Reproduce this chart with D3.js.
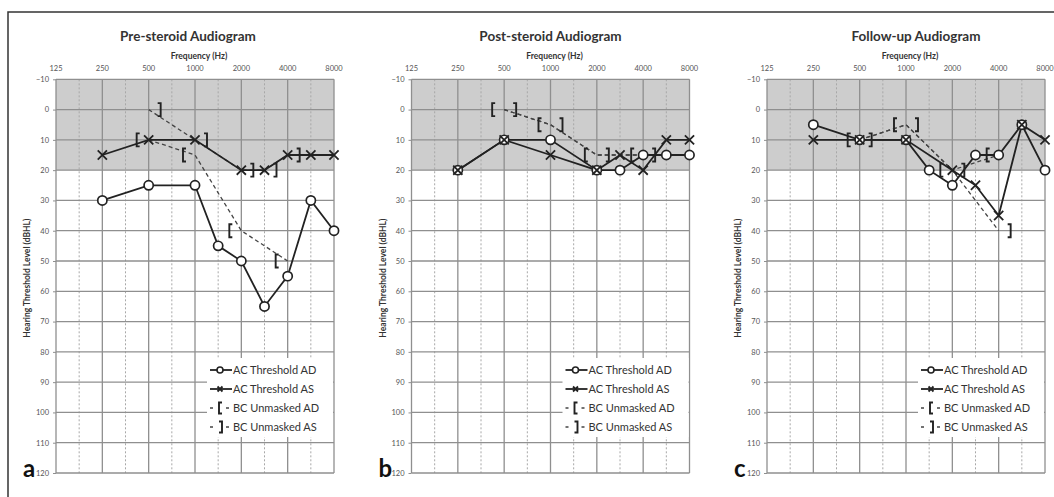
<!DOCTYPE html>
<html>
<head>
<meta charset="utf-8">
<script src="https://cdn.jsdelivr.net/npm/d3@7"></script>
<style>
  body { margin: 0; background: #fff; }
  text { font-family: Lato, "Open Sans", sans-serif; }
</style>
</head>
<body>
<div id="chart"></div>
<script>
// grid positions, half-octave steps (the two unnamed ones sit between 125/250 and 250/500)
const gridFreqs = [125, 180, 250, 375, 500, 750, 1000, 1500, 2000, 3000, 4000, 6000, 8000];
const freqLabels = [125, 250, 500, 1000, 2000, 4000, 8000];
const dbTicks = [-10, 0, 10, 20, 30, 40, 50, 60, 70, 80, 90, 100, 110, 120];

const titles = ["Pre-steroid Audiogram", "Post-steroid Audiogram", "Follow-up Audiogram"];
const letters = ["a", "b", "c"];
const legendLabels = ["AC Threshold AD", "AC Threshold AS", "BC Unmasked AD", "BC Unmasked AS"];

// [frequency, dB HL]
const preAcAD = [[250,30],[500,25],[1000,25],[1500,45],[2000,50],[3000,65],[4000,55],[6000,30],[8000,40]];
const preAcAS = [[250,15],[500,10],[1000,10],[2000,20],[3000,20],[4000,15],[6000,15],[8000,15]];
const preBcAD = [[500,10],[1000,15],[2000,40],[4000,50]];
const preBcAS = [[500,0],[1000,10],[2000,20],[3000,20],[4000,15]];

const postAcAD = [[250,20],[500,10],[1000,10],[2000,20],[3000,20],[4000,15],[6000,15],[8000,15]];
const postAcAS = [[250,20],[500,10],[1000,15],[2000,20],[3000,15],[4000,20],[6000,10],[8000,10]];
const postBcAD = [[500,0],[1000,5],[2000,15],[4000,15]];
const postBcAS = [[500,0],[1000,5],[2000,15],[4000,15]];

const fuAcAD = [[250,5],[500,10],[1000,10],[1500,20],[2000,25],[3000,15],[4000,15],[6000,5],[8000,20]];
const fuAcAS = [[250,10],[500,10],[1000,10],[2000,20],[3000,25],[4000,35],[6000,5],[8000,10]];
const fuBcAD = [[500,10],[1000,5],[2000,20],[4000,15]];
const fuBcAS = [[500,10],[1000,5],[2000,20],[4000,40]];

const panels = [
  {acAD: preAcAD, acAS: preAcAS, bcAD: preBcAD, bcAS: preBcAS},
  {acAD: postAcAD, acAS: postAcAS, bcAD: postBcAD, bcAS: postBcAS},
  {acAD: fuAcAD, acAS: fuAcAS, bcAD: fuBcAD, bcAS: fuBcAS}
];

const W = 1054, H = 497;
const plotW = 278;
const lefts = [56, 411.5, 767];
const titleDx = [-7, 0, 10];
const ink = "#222";

const svg = d3.select("#chart").append("svg")
  .attr("width", W).attr("height", H);

// outer frame
svg.append("path")
  .attr("d", "M8," + H + "V12H" + W)
  .attr("fill", "none").attr("stroke", "#333").attr("stroke-width", 1.5);

const y = d3.scaleLinear().domain([-10, 120]).range([79.3, 473]);

function xMark(sel, x0, y0, s) {
  sel.append("path")
    .attr("d", "M" + (x0 - s) + "," + (y0 - s) + "L" + (x0 + s) + "," + (y0 + s) +
               "M" + (x0 - s) + "," + (y0 + s) + "L" + (x0 + s) + "," + (y0 - s))
    .attr("stroke", ink).attr("stroke-width", 1.8).attr("fill", "none");
}
function bracket(sel, x0, y0, left, h) {
  const d = left ? 3 : -3;
  sel.append("path")
    .attr("d", "M" + (x0 + d) + "," + (y0 - h) + "H" + x0 + "V" + (y0 + h) + "H" + (x0 + d))
    .attr("stroke", ink).attr("stroke-width", 1.9).attr("fill", "none");
}

panels.forEach(function(p, i) {
  const x = d3.scalePoint().domain(gridFreqs).range([0, plotW]);
  const g = svg.append("g").attr("transform", "translate(" + lefts[i] + ",0)");

  // shaded normal-hearing band
  g.append("rect")
    .attr("x", 0).attr("y", y(-10))
    .attr("width", plotW).attr("height", y(20) - y(-10))
    .attr("fill", "#cdcdcd");

  // vertical grid
  g.selectAll(".vg").data(gridFreqs).enter().append("line")
    .attr("x1", d => x(d)).attr("x2", d => x(d))
    .attr("y1", y(-10)).attr("y2", y(120))
    .attr("stroke", d => freqLabels.includes(d) ? "#8f8f8f" : "#a8a8a8")
    .attr("stroke-width", d => freqLabels.includes(d) ? 1.3 : 1)
    .attr("stroke-dasharray", d => freqLabels.includes(d) ? null : "2,2");

  // horizontal grid
  g.selectAll(".hg").data(dbTicks).enter().append("line")
    .attr("x1", 0).attr("x2", plotW)
    .attr("y1", d => y(d)).attr("y2", d => y(d))
    .attr("stroke", "#8f8f8f").attr("stroke-width", 1.3);

  // y axis
  const yAxis = g.append("g").call(d3.axisLeft(y).tickValues(dbTicks).tickSize(3).tickPadding(4));
  yAxis.select(".domain").remove();
  yAxis.selectAll("line").attr("stroke", "#8f8f8f");
  yAxis.selectAll("text").attr("font-family", "Lato, sans-serif").attr("font-size", 7.5).attr("fill", "#555");

  // frequency labels on top
  g.selectAll(".fl").data(freqLabels).enter().append("text")
    .attr("x", d => x(d)).attr("y", 71)
    .attr("text-anchor", "middle").attr("font-size", 7.5).attr("fill", "#555")
    .text(d => d);

  g.append("text")
    .attr("x", plotW / 2 + titleDx[i]).attr("y", 41)
    .attr("text-anchor", "middle").attr("font-size", 13.5).attr("font-weight", "bold").attr("fill", "#333")
    .text(titles[i]);

  g.append("text")
    .attr("x", plotW / 2 + 4).attr("y", 59)
    .attr("text-anchor", "middle").attr("font-size", 8.5).attr("font-weight", "bold").attr("fill", "#333")
    .text("Frequency (Hz)");

  g.append("text")
    .attr("transform", "translate(-26," + ((y(-10) + y(120)) / 2 + 2) + ") rotate(-90)")
    .attr("text-anchor", "middle").attr("font-size", 8.5).attr("font-weight", "bold").attr("fill", "#333")
    .text("Hearing Threshold Level (dBHL)");

  // legend
  const lg = g.append("g");
  lg.append("rect")
    .attr("x", 151).attr("y", 358).attr("width", plotW - 152).attr("height", 79)
    .attr("fill", "#fff");
  const rows = [370, 389, 408, 427];
  legendLabels.forEach(function(lab, k) {
    const ry = rows[k];
    if (k < 2) {
      lg.append("line").attr("x1", 154).attr("x2", 176).attr("y1", ry).attr("y2", ry)
        .attr("stroke", ink).attr("stroke-width", 1.8);
      if (k === 0) {
        lg.append("circle").attr("cx", 164).attr("cy", ry).attr("r", 3)
          .attr("fill", "#fff").attr("stroke", ink).attr("stroke-width", 1.6);
      } else {
        xMark(lg, 164, ry, 2.5);
      }
    } else {
      lg.append("line").attr("x1", 154).attr("x2", 176).attr("y1", ry).attr("y2", ry)
        .attr("stroke", "#444").attr("stroke-width", 1.3).attr("stroke-dasharray", "3,5");
      lg.append("rect").attr("x", 160).attr("y", ry - 6).attr("width", 8).attr("height", 12).attr("fill", "#fff");
      bracket(lg, k === 2 ? 163 : 166, ry, k === 2, 5.5);
    }
    lg.append("text").attr("x", 177).attr("y", ry + 3.8)
      .attr("font-size", 11).attr("fill", "#333").text(lab);
  });

  // data lines
  const line = d3.line().x(d => x(d[0])).y(d => y(d[1]));
  g.append("path").datum(p.bcAD).attr("d", line)
    .attr("fill", "none").attr("stroke", "#444").attr("stroke-width", 1.3).attr("stroke-dasharray", "4,3");
  g.append("path").datum(p.bcAS).attr("d", line)
    .attr("fill", "none").attr("stroke", "#444").attr("stroke-width", 1.3).attr("stroke-dasharray", "4,3");
  g.append("path").datum(p.acAD).attr("d", line)
    .attr("fill", "none").attr("stroke", ink).attr("stroke-width", 1.8);
  g.append("path").datum(p.acAS).attr("d", line)
    .attr("fill", "none").attr("stroke", ink).attr("stroke-width", 1.8);

  // markers
  g.selectAll(".ad").data(p.acAD).enter().append("circle")
    .attr("cx", d => x(d[0])).attr("cy", d => y(d[1])).attr("r", 4.6)
    .attr("fill", "#fff").attr("stroke", ink).attr("stroke-width", 1.7);
  p.acAS.forEach(d => xMark(g, x(d[0]), y(d[1]), 4.6));
  p.bcAD.forEach(d => bracket(g, x(d[0]) - 12, y(d[1]), true, 6.5));
  p.bcAS.forEach(d => bracket(g, x(d[0]) + 12, y(d[1]), false, 6.5));

  // panel letter
  g.append("text")
    .attr("x", -33).attr("y", 477)
    .attr("font-family", "Arial, 'Liberation Sans', sans-serif")
    .attr("font-size", 24).attr("font-weight", "bold").attr("fill", "#111")
    .text(letters[i]);
});
</script>
</body>
</html>
